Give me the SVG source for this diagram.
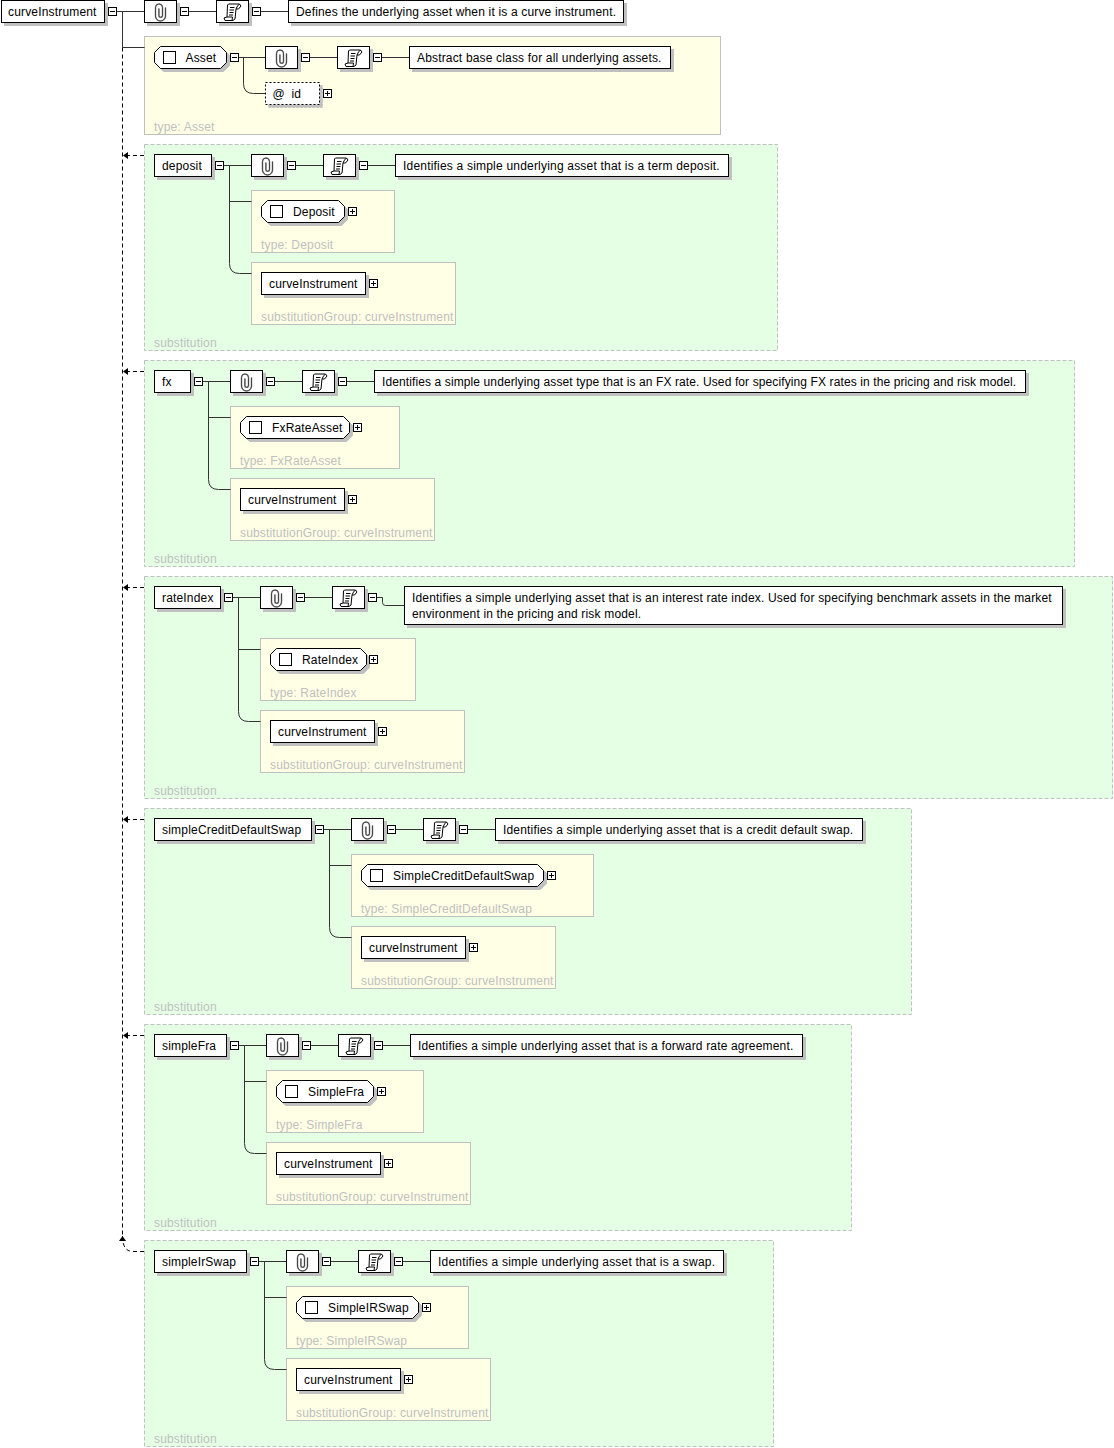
<svg xmlns="http://www.w3.org/2000/svg" width="1114" height="1448" viewBox="0 0 1114 1448">
<style>
text{font-family:"Liberation Sans",Arial,sans-serif;font-size:12px;fill:#000;letter-spacing:.17px}
text.g{fill:#c0c0c0}
text.n{letter-spacing:.11px}
text.w{letter-spacing:.2px}
.sub{fill:#e5ffe5;stroke:#c0c0c0;stroke-dasharray:4 2}
.typ{fill:#ffffe5;stroke:#c0c0c0}
.b{fill:#fff;stroke:#000;filter:drop-shadow(3px 3px 0 #c0c0c0)}
.d{stroke-dasharray:2 2}
.c{fill:none;stroke:#333}
.dash{fill:none;stroke:#000;stroke-dasharray:4 3}
.chk{fill:#fff;stroke:#000}
</style>
<defs>
<marker id="arrow" markerUnits="userSpaceOnUse" markerWidth="6" markerHeight="8" refX="5" refY="4" orient="auto"><path d="M0 0.5L5 4L0 7.5Z" fill="#000"/></marker>
<g id="minus"><rect x="0" y="0" width="8" height="8" fill="#fff" stroke="#000"/><path d="M1.5 4H6.5" stroke="#000"/></g>
<g id="plus"><rect x="0" y="0" width="8" height="8" fill="#fff" stroke="#000"/><path d="M1.5 4H6.5M4 1.5V6.5" stroke="#000"/></g>
<g id="clip"><path d="M21 7V15.5a5 5 0 0 1-10 0V7a3.5 3.5 0 0 1 7 0V15a1.8 1.8 0 0 1-3.6 0V8" fill="none" stroke="#999" stroke-width="1.6"/><path d="M21 7V15.5a5 5 0 0 1-10 0V7a3.5 3.5 0 0 1 7 0V15a1.8 1.8 0 0 1-3.6 0V8" fill="none" stroke="#222" stroke-width="0.7"/></g>
<g id="scroll"><path d="M11 4.5L12 3.5H23L24.5 5.5L22 8.5H19.5L18.5 18.5L16.5 20H8.5L7.5 17.5L10.5 16.5Z" fill="#fff" stroke="#000"/><path d="M19.5 8.5L21 5.5L23 3.5M13.5 7H18M13 9.5H17.5M13 12H17M12.5 14.5H16.5M10.5 16.5H16L15.5 20" stroke="#000" fill="none"/></g>
</defs>

<g id="containers">
<rect class="typ" x="144.5" y="36.5" width="576" height="98"/><text class="g" x="154" y="131">type: Asset</text>
<rect class="sub" x="144.5" y="144.5" width="633" height="206"/><text class="g" x="154" y="347">substitution</text>
<rect class="typ" x="251.5" y="190.5" width="143" height="62"/><text class="g" x="261" y="249">type: Deposit</text>
<rect class="typ" x="251.5" y="262.5" width="204" height="62"/><text class="g" x="261" y="321">substitutionGroup: curveInstrument</text>
<rect class="sub" x="144.5" y="360.5" width="930" height="206"/><text class="g" x="154" y="563">substitution</text>
<rect class="typ" x="230.5" y="406.5" width="169" height="62"/><text class="g" x="240" y="465">type: FxRateAsset</text>
<rect class="typ" x="230.5" y="478.5" width="204" height="62"/><text class="g" x="240" y="537">substitutionGroup: curveInstrument</text>
<rect class="sub" x="144.5" y="576.5" width="968" height="222"/><text class="g" x="154" y="795">substitution</text>
<rect class="typ" x="260.5" y="638.5" width="155" height="62"/><text class="g" x="270" y="697">type: RateIndex</text>
<rect class="typ" x="260.5" y="710.5" width="204" height="62"/><text class="g" x="270" y="769">substitutionGroup: curveInstrument</text>
<rect class="sub" x="144.5" y="808.5" width="767" height="206"/><text class="g" x="154" y="1011">substitution</text>
<rect class="typ" x="351.5" y="854.5" width="242" height="62"/><text class="g" x="361" y="913">type: SimpleCreditDefaultSwap</text>
<rect class="typ" x="351.5" y="926.5" width="204" height="62"/><text class="g" x="361" y="985">substitutionGroup: curveInstrument</text>
<rect class="sub" x="144.5" y="1024.5" width="707" height="206"/><text class="g" x="154" y="1227">substitution</text>
<rect class="typ" x="266.5" y="1070.5" width="157" height="62"/><text class="g" x="276" y="1129">type: SimpleFra</text>
<rect class="typ" x="266.5" y="1142.5" width="204" height="62"/><text class="g" x="276" y="1201">substitutionGroup: curveInstrument</text>
<rect class="sub" x="144.5" y="1240.5" width="629" height="206"/><text class="g" x="154" y="1443">substitution</text>
<rect class="typ" x="286.5" y="1286.5" width="182" height="62"/><text class="g" x="296" y="1345">type: SimpleIRSwap</text>
<rect class="typ" x="286.5" y="1358.5" width="204" height="62"/><text class="g" x="296" y="1417">substitutionGroup: curveInstrument</text>
</g>

<g id="connectors">
<path class="c" d="M117 11.5H144.5M189 11.5H216.5M261 11.5H288.5M122.5 11.5V47.5H144.5"/>
<path class="dash" d="M122.5 47.5V1236"/>
<path class="dash" d="M144 155.5H123" marker-end="url(#arrow)"/>
<path class="dash" d="M144 371.5H123" marker-end="url(#arrow)"/>
<path class="dash" d="M144 587.5H123" marker-end="url(#arrow)"/>
<path class="dash" d="M144 819.5H123" marker-end="url(#arrow)"/>
<path class="dash" d="M144 1035.5H123" marker-end="url(#arrow)"/>
<path class="dash" d="M144 1251.5H133Q122.5 1251.5 122.5 1236" marker-end="url(#arrow)"/>
<path class="c" d="M239 57.5H265.5M310 57.5H337.5M382 57.5H409.5M243.5 57.5V83.5Q243.5 93.5 253.5 93.5H265.5"/>
<path class="c" d="M224 165.5H251.5M296 165.5H323.5M368 165.5H395.5M229.5 165.5V263.5Q229.5 273.5 239.5 273.5H251.5M229.5 201.5H251.5"/>
<path class="c" d="M203 381.5H230.5M275 381.5H302.5M347 381.5H374.5M208.5 381.5V479.5Q208.5 489.5 218.5 489.5H230.5M208.5 417.5H230.5"/>
<path class="c" d="M233 597.5H260.5M305 597.5H332.5M377 597.5H382.5V602.5Q382.5 605.5 385.5 605.5H404.5M238.5 597.5V711.5Q238.5 721.5 248.5 721.5H260.5M238.5 649.5H260.5"/>
<path class="c" d="M324 829.5H351.5M396 829.5H423.5M468 829.5H495.5M329.5 829.5V927.5Q329.5 937.5 339.5 937.5H351.5M329.5 865.5H351.5"/>
<path class="c" d="M239 1045.5H266.5M311 1045.5H338.5M383 1045.5H410.5M244.5 1045.5V1143.5Q244.5 1153.5 254.5 1153.5H266.5M244.5 1081.5H266.5"/>
<path class="c" d="M259 1261.5H286.5M331 1261.5H358.5M403 1261.5H430.5M264.5 1261.5V1359.5Q264.5 1369.5 274.5 1369.5H286.5M264.5 1297.5H286.5"/>
</g>

<g id="curveInstrument">
<rect class="b" x="1.5" y="0.5" width="103" height="22"/><text x="8" y="16">curveInstrument</text><use href="#minus" x="108.5" y="7.5"/>
<rect class="b" x="144.5" y="0.5" width="32" height="22"/><use href="#clip" x="144.5" y="0.5"/><use href="#minus" x="180.5" y="7.5"/>
<rect class="b" x="216.5" y="0.5" width="32" height="22"/><use href="#scroll" x="216.5" y="0.5"/><use href="#minus" x="252.5" y="7.5"/>
<rect class="b" x="288.5" y="0.5" width="335" height="22"/><text x="296" y="16">Defines the underlying asset when it is a curve instrument.</text>
</g>

<g id="asset">
<path class="b" d="M160.5 46.5H220.5L226.5 52.5V62.5L220.5 68.5H160.5L154.5 62.5V52.5Z"/><rect class="chk" x="163.5" y="51.5" width="12" height="12"/><text x="185.5" y="62">Asset</text><use href="#minus" x="230.5" y="53.5"/>
<rect class="b" x="265.5" y="46.5" width="32" height="22"/><use href="#clip" x="265.5" y="46.5"/><use href="#minus" x="301.5" y="53.5"/>
<rect class="b" x="337.5" y="46.5" width="32" height="22"/><use href="#scroll" x="337.5" y="46.5"/><use href="#minus" x="373.5" y="53.5"/>
<rect class="b" x="409.5" y="46.5" width="261" height="22"/><text x="417" y="62">Abstract base class for all underlying assets.</text>
<rect class="b d" x="265.5" y="82.5" width="54" height="22"/><text x="272.5" y="98">@</text><text x="291.5" y="98">id</text><use href="#plus" x="323.5" y="89.5"/>
</g>

<g id="deposit">
<rect class="b" x="154.5" y="154.5" width="57" height="22"/><text x="162" y="170">deposit</text><use href="#minus" x="215.5" y="161.5"/>
<rect class="b" x="251.5" y="154.5" width="32" height="22"/><use href="#clip" x="251.5" y="154.5"/><use href="#minus" x="287.5" y="161.5"/>
<rect class="b" x="323.5" y="154.5" width="32" height="22"/><use href="#scroll" x="323.5" y="154.5"/><use href="#minus" x="359.5" y="161.5"/>
<rect class="b" x="395.5" y="154.5" width="333" height="22"/><text class="w" x="403" y="170">Identifies a simple underlying asset that is a term deposit.</text>
<path class="b" d="M267.5 200.5H338.5L344.5 206.5V216.5L338.5 222.5H267.5L261.5 216.5V206.5Z"/><rect class="chk" x="270.5" y="205.5" width="12" height="12"/><text x="293" y="216">Deposit</text><use href="#plus" x="348.5" y="207.5"/>
<rect class="b" x="261.5" y="272.5" width="104" height="22"/><text x="269" y="288">curveInstrument</text><use href="#plus" x="369.5" y="279.5"/>
</g>

<g id="fx">
<rect class="b" x="154.5" y="370.5" width="36" height="22"/><text x="162" y="386">fx</text><use href="#minus" x="194.5" y="377.5"/>
<rect class="b" x="230.5" y="370.5" width="32" height="22"/><use href="#clip" x="230.5" y="370.5"/><use href="#minus" x="266.5" y="377.5"/>
<rect class="b" x="302.5" y="370.5" width="32" height="22"/><use href="#scroll" x="302.5" y="370.5"/><use href="#minus" x="338.5" y="377.5"/>
<rect class="b" x="374.5" y="370.5" width="651" height="22"/><text class="n" x="382" y="386">Identifies a simple underlying asset type that is an FX rate. Used for specifying FX rates in the pricing and risk model.</text>
<path class="b" d="M246.5 416.5H343.5L349.5 422.5V432.5L343.5 438.5H246.5L240.5 432.5V422.5Z"/><rect class="chk" x="249.5" y="421.5" width="12" height="12"/><text x="272" y="432">FxRateAsset</text><use href="#plus" x="353.5" y="423.5"/>
<rect class="b" x="240.5" y="488.5" width="104" height="22"/><text x="248" y="504">curveInstrument</text><use href="#plus" x="348.5" y="495.5"/>
</g>

<g id="rateIndex">
<rect class="b" x="154.5" y="586.5" width="66" height="22"/><text x="162" y="602">rateIndex</text><use href="#minus" x="224.5" y="593.5"/>
<rect class="b" x="260.5" y="586.5" width="32" height="22"/><use href="#clip" x="260.5" y="586.5"/><use href="#minus" x="296.5" y="593.5"/>
<rect class="b" x="332.5" y="586.5" width="32" height="22"/><use href="#scroll" x="332.5" y="586.5"/><use href="#minus" x="368.5" y="593.5"/>
<rect class="b" x="404.5" y="586.5" width="658" height="38"/><text x="412" y="602">Identifies a simple underlying asset that is an interest rate index. Used for specifying benchmark assets in the market</text><text x="412" y="618">environment in the pricing and risk model.</text>
<path class="b" d="M276.5 648.5H360.5L366.5 654.5V664.5L360.5 670.5H276.5L270.5 664.5V654.5Z"/><rect class="chk" x="279.5" y="653.5" width="12" height="12"/><text x="302" y="664">RateIndex</text><use href="#plus" x="369.5" y="655.5"/>
<rect class="b" x="270.5" y="720.5" width="104" height="22"/><text x="278" y="736">curveInstrument</text><use href="#plus" x="378.5" y="727.5"/>
</g>

<g id="simpleCreditDefaultSwap">
<rect class="b" x="154.5" y="818.5" width="157" height="22"/><text class="w" x="162" y="834">simpleCreditDefaultSwap</text><use href="#minus" x="315.5" y="825.5"/>
<rect class="b" x="351.5" y="818.5" width="32" height="22"/><use href="#clip" x="351.5" y="818.5"/><use href="#minus" x="387.5" y="825.5"/>
<rect class="b" x="423.5" y="818.5" width="32" height="22"/><use href="#scroll" x="423.5" y="818.5"/><use href="#minus" x="459.5" y="825.5"/>
<rect class="b" x="495.5" y="818.5" width="367" height="22"/><text x="503" y="834">Identifies a simple underlying asset that is a credit default swap.</text>
<path class="b" d="M367.5 864.5H537.5L543.5 870.5V880.5L537.5 886.5H367.5L361.5 880.5V870.5Z"/><rect class="chk" x="370.5" y="869.5" width="12" height="12"/><text class="w" x="393" y="880">SimpleCreditDefaultSwap</text><use href="#plus" x="547.5" y="871.5"/>
<rect class="b" x="361.5" y="936.5" width="104" height="22"/><text x="369" y="952">curveInstrument</text><use href="#plus" x="469.5" y="943.5"/>
</g>

<g id="simpleFra">
<rect class="b" x="154.5" y="1034.5" width="72" height="22"/><text x="162" y="1050">simpleFra</text><use href="#minus" x="230.5" y="1041.5"/>
<rect class="b" x="266.5" y="1034.5" width="32" height="22"/><use href="#clip" x="266.5" y="1034.5"/><use href="#minus" x="302.5" y="1041.5"/>
<rect class="b" x="338.5" y="1034.5" width="32" height="22"/><use href="#scroll" x="338.5" y="1034.5"/><use href="#minus" x="374.5" y="1041.5"/>
<rect class="b" x="410.5" y="1034.5" width="392" height="22"/><text x="418" y="1050">Identifies a simple underlying asset that is a forward rate agreement.</text>
<path class="b" d="M282.5 1080.5H367.5L373.5 1086.5V1096.5L367.5 1102.5H282.5L276.5 1096.5V1086.5Z"/><rect class="chk" x="285.5" y="1085.5" width="12" height="12"/><text x="308" y="1096">SimpleFra</text><use href="#plus" x="377.5" y="1087.5"/>
<rect class="b" x="276.5" y="1152.5" width="104" height="22"/><text x="284" y="1168">curveInstrument</text><use href="#plus" x="384.5" y="1159.5"/>
</g>

<g id="simpleIrSwap">
<rect class="b" x="154.5" y="1250.5" width="92" height="22"/><text x="162" y="1266">simpleIrSwap</text><use href="#minus" x="250.5" y="1257.5"/>
<rect class="b" x="286.5" y="1250.5" width="32" height="22"/><use href="#clip" x="286.5" y="1250.5"/><use href="#minus" x="322.5" y="1257.5"/>
<rect class="b" x="358.5" y="1250.5" width="32" height="22"/><use href="#scroll" x="358.5" y="1250.5"/><use href="#minus" x="394.5" y="1257.5"/>
<rect class="b" x="430.5" y="1250.5" width="293" height="22"/><text class="w" x="438" y="1266">Identifies a simple underlying asset that is a swap.</text>
<path class="b" d="M302.5 1296.5H412.5L418.5 1302.5V1312.5L412.5 1318.5H302.5L296.5 1312.5V1302.5Z"/><rect class="chk" x="305.5" y="1301.5" width="12" height="12"/><text x="328" y="1312">SimpleIRSwap</text><use href="#plus" x="422.5" y="1303.5"/>
<rect class="b" x="296.5" y="1368.5" width="104" height="22"/><text x="304" y="1384">curveInstrument</text><use href="#plus" x="404.5" y="1375.5"/>
</g>
</svg>
